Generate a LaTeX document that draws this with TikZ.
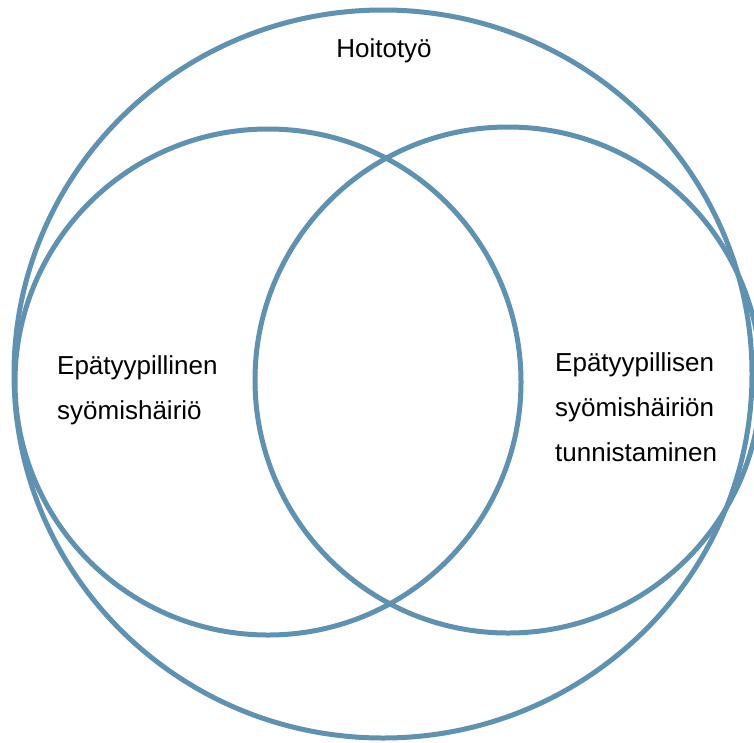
\documentclass[tikz,border=0pt]{standalone}
\usepackage{fontspec}
\setmainfont{Liberation Sans}
\usetikzlibrary{shapes.geometric}
\definecolor{ringblue}{RGB}{95,145,177}

\begin{document}
\begin{tikzpicture}[
    x=1pt, y=-1pt,
    ring/.style={draw=ringblue, line width=5pt, inner sep=0pt, outer sep=0pt},
    lbl/.style={font=\fontsize{26}{45}\selectfont, align=left, inner sep=0pt}
]
\useasboundingbox (0,0) rectangle (754,742);
\node[ring, ellipse, minimum width=738, minimum height=728] (hoitotyo) at (383,374) {};
\node[ring, circle, minimum size=506] (hairio) at (268,382) {};
\node[ring, circle, minimum size=506] (tunnistus) at (508,380) {};
\node[lbl, anchor=base] (thoito) at (384,57) {Hoitotyö};
\node[lbl, anchor=north west] (thairio) at (57,355) {Epätyypillinen\\syömishäiriö};
\node[lbl, anchor=north west] (ttunnis) at (555,352) {Epätyypillisen\\syömishäiriön\\tunnistaminen};
\end{tikzpicture}
\end{document}
